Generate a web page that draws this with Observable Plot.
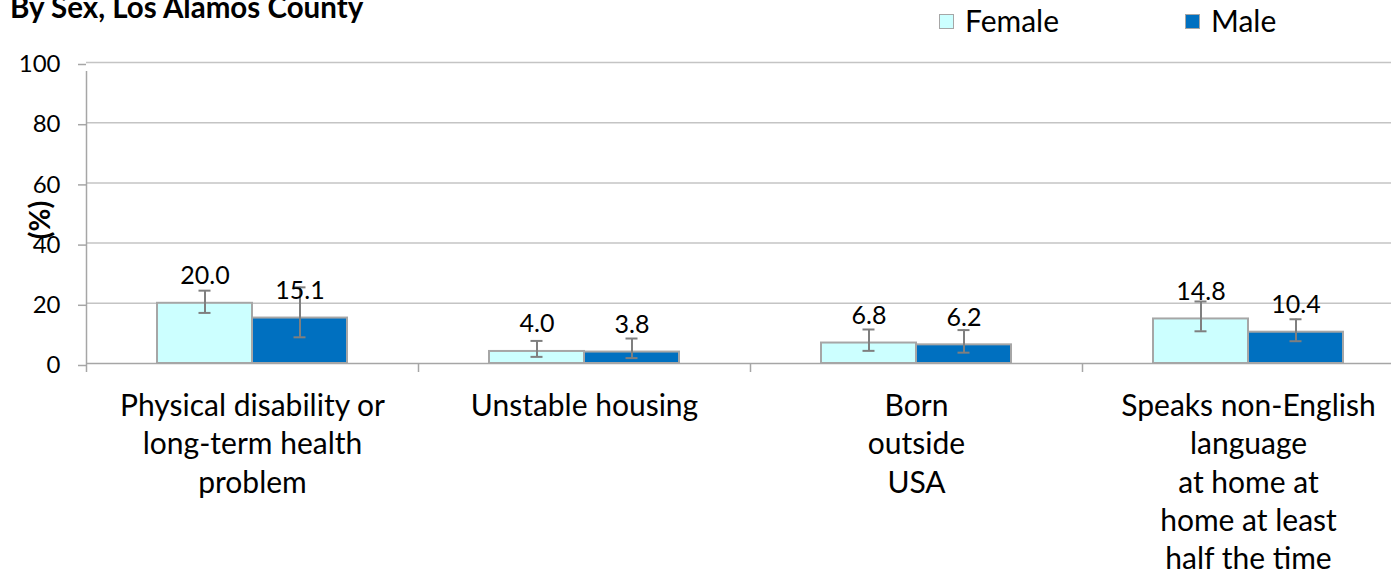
<!DOCTYPE html>
<html><head><meta charset="utf-8">
<script src="https://cdn.jsdelivr.net/npm/d3@7"></script>
<script src="https://cdn.jsdelivr.net/npm/@observablehq/plot@0.6"></script>
<style>
html,body{margin:0;padding:0;background:#fff;overflow:hidden;}
#wrap{position:relative;width:1391px;height:574px;overflow:hidden;font-family:Lato,sans-serif;color:#000;}
#chart{position:absolute;left:0;top:0;}
#title{position:absolute;left:10px;top:-11px;font-weight:bold;font-size:29.5px;white-space:nowrap;}
.sw{position:absolute;top:14px;width:13px;height:13px;border:1.5px solid #a6a6a6;}
.lt{position:absolute;top:2px;font-size:30px;white-space:nowrap;}
</style></head>
<body>
<div id="wrap">
  <div id="chart"></div>
  <div id="title">By Sex, Los Alamos County</div>
  <div class="sw" style="left:939px;background:#CCFFFF"></div>
  <div class="lt" style="left:965px">Female</div>
  <div class="sw" style="left:1185px;background:#0070C0"></div>
  <div class="lt" style="left:1211px">Male</div>
</div>
<script>
const categories = [
  "Physical disability or\nlong-term health\nproblem",
  "Unstable housing",
  "Born\noutside\nUSA",
  "Speaks non-English\nlanguage\nat home at\nhome at least\nhalf the time"
];
const femaleValues = [20.0, 4.0, 6.8, 14.8];
const maleValues   = [15.1, 3.8, 6.2, 10.4];
const femaleLow  = [16.8, 2.2, 4.2, 10.7];
const femaleHigh = [24.2, 7.5, 11.3, 20.6];
const maleLow    = [8.7, 1.8, 3.6, 7.4];
const maleHigh   = [25.3, 8.3, 11.1, 14.7];
const yTicks = [0, 20, 40, 60, 80, 100];
const gridTicks = [20, 40, 60, 80, 100];

const female = categories.map((c, i) => ({category: c, value: femaleValues[i], low: femaleLow[i], high: femaleHigh[i]}));
const male = categories.map((c, i) => ({category: c, value: maleValues[i], low: maleLow[i], high: maleHigh[i]}));

const half = 47.5;
const gray = "#a6a6a6";
const errGray = "#7f7f7f";

const chart = Plot.plot({
  width: 1391,
  height: 574,
  marginTop: 62,
  marginBottom: 211,
  marginLeft: 86,
  marginRight: 0,
  style: {fontFamily: "Lato, sans-serif", background: "transparent", overflow: "hidden"},
  x: {type: "band", domain: categories, range: [86, 1414], padding: 0, axis: null},
  y: {domain: [0, 100], axis: null},
  marks: [
    Plot.ruleY(gridTicks, {stroke: "#c4c4c4", strokeWidth: 1.5}),
    Plot.barY(female, {x: "category", y: "value", fill: "#CCFFFF", stroke: gray, strokeWidth: 2, insetLeft: 166 - 2 * half, insetRight: 166}),
    Plot.barY(male, {x: "category", y: "value", fill: "#0070C0", stroke: gray, strokeWidth: 2, insetLeft: 166, insetRight: 166 - 2 * half}),
    Plot.ruleY([0], {stroke: gray, strokeWidth: 1.5}),
    Plot.ruleX(categories, {x: d => d, y1: 0, y2: 0, dx: -166, insetBottom: -9, stroke: gray, strokeWidth: 1.5}),
    Plot.ruleX([categories[0]], {x: d => d, y1: 0, y2: 100, dx: -166, insetBottom: -9, stroke: gray, strokeWidth: 1.5}),
    Plot.axisY({ticks: yTicks, tickSize: 8, tickPadding: 18, fontSize: 24, stroke: gray, strokeWidth: 1.5, fill: "#000", label: null, dy: 2}),
    Plot.ruleX(female, {x: "category", y1: "low", y2: "high", dx: -half, stroke: errGray, strokeWidth: 2}),
    Plot.ruleX(male, {x: "category", y1: "low", y2: "high", dx: half, stroke: errGray, strokeWidth: 2}),
    Plot.tickY(female, {x: "category", y: "low", dx: -half, insetLeft: 160, insetRight: 160, stroke: errGray, strokeWidth: 2}),
    Plot.tickY(female, {x: "category", y: "high", dx: -half, insetLeft: 160, insetRight: 160, stroke: errGray, strokeWidth: 2}),
    Plot.tickY(male, {x: "category", y: "low", dx: half, insetLeft: 160, insetRight: 160, stroke: errGray, strokeWidth: 2}),
    Plot.tickY(male, {x: "category", y: "high", dx: half, insetLeft: 160, insetRight: 160, stroke: errGray, strokeWidth: 2}),
    Plot.text(female, {x: "category", y: "value", dx: -half, dy: -27, text: d => d.value.toFixed(1), fontSize: 25, fill: "#000"}),
    Plot.text(male, {x: "category", y: "value", dx: half, dy: -27, text: d => d.value.toFixed(1), fontSize: 25, fill: "#000"}),
    Plot.text(categories, {x: d => d, frameAnchor: "bottom", lineAnchor: "top", dy: 25, lineHeight: 1.28, fontSize: 30, fill: "#000", text: d => d}),
    Plot.text(["(%)"], {frameAnchor: "left", textAnchor: "middle", dx: -45.5, dy: 7, rotate: -90, fontSize: 28, fontWeight: "bold", fill: "#000"})
  ]
});
document.getElementById("chart").appendChild(chart);
</script>
</body></html>
